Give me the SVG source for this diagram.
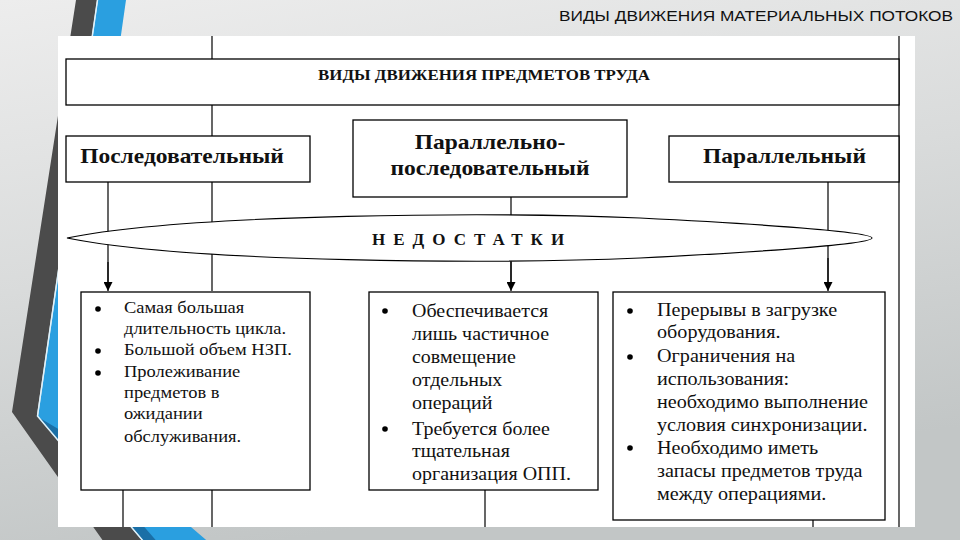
<svg xmlns="http://www.w3.org/2000/svg" width="960" height="540" viewBox="0 0 960 540">
<defs>
<linearGradient id="bg" x1="0" y1="0" x2="0.3" y2="1">
<stop offset="0" stop-color="#ededed"/>
<stop offset="0.5" stop-color="#d9dbdb"/>
<stop offset="1" stop-color="#c2c6c6"/>
</linearGradient>
<marker id="ah" viewBox="0 0 10 10" refX="10" refY="5" markerWidth="9" markerHeight="9" markerUnits="userSpaceOnUse" orient="auto">
<path d="M0,0 L10,5 L0,10 Z" fill="#000"/>
</marker>
<style>
.box{fill:#fff;stroke:#000;stroke-width:1.3}
.ln{stroke:#000;stroke-width:1.2;fill:none}
.hd{font-family:"Liberation Serif",serif;font-weight:bold;fill:#111}
.bt{font-family:"Liberation Serif",serif;fill:#111}
.bl{fill:#000}
</style>
</defs>
<rect width="960" height="540" fill="url(#bg)"/>
<!-- decorative chevrons -->
<polygon points="76,0 97,0 37,415 146,545 106,545 12,412" fill="#4b4b4b"/>
<polygon points="98,0 126,0 66,420 212,545 147,545 38,417" fill="#2a9fe0"/>
<polygon points="38,417 60,430 160,545 147,545" fill="#1a6fa6"/>
<path d="M97.5,0 L37.5,416 L146.5,545" fill="none" stroke="#dff2fb" stroke-width="1.5"/>
<!-- panel -->
<rect x="58" y="36" width="857" height="491" fill="#fff"/>
<text x="953" y="21" text-anchor="end" font-family="Liberation Sans, Arial, sans-serif" font-size="15" fill="#111" textLength="394" lengthAdjust="spacingAndGlyphs">ВИДЫ ДВИЖЕНИЯ МАТЕРИАЛЬНЫХ ПОТОКОВ</text>
<g id="connectors">
<line class="ln" x1="899" y1="36" x2="899" y2="527"/>
<line class="ln" x1="212" y1="36" x2="212" y2="59"/>
<line class="ln" x1="212" y1="105" x2="212" y2="136"/>
<line class="ln" x1="212" y1="182" x2="212" y2="291"/>
<line class="ln" x1="212" y1="490" x2="212" y2="527"/>
<line class="ln" x1="123" y1="490" x2="123" y2="527"/>
<line class="ln" x1="485" y1="490" x2="485" y2="527"/>
<line class="ln" x1="813" y1="520" x2="813" y2="527"/>
<line class="ln" x1="108" y1="182" x2="108" y2="291" marker-end="url(#ah)"/>
<line class="ln" x1="511" y1="197" x2="511" y2="291" marker-end="url(#ah)"/>
<line class="ln" x1="828" y1="182" x2="828" y2="291" marker-end="url(#ah)"/>
</g>
<g id="nedostatki">
<path d="M67,238 C190,213 500,212 640,218 C760,224 872,232 872,238 C872,244 760,252 640,258 C500,264 190,263 67,238 Z" fill="#fff" stroke="#000" stroke-width="1.1"/>
<line class="ln" x1="108" y1="262" x2="108" y2="282"/>
<line class="ln" x1="511" y1="262" x2="511" y2="282"/>
<line class="ln" x1="828" y1="258" x2="828" y2="282"/>
<text class="hd" x="372" y="245" font-size="17" letter-spacing="8">НЕДОСТАТКИ</text>
</g>
<g id="top">
<rect class="box" x="66" y="59" width="833" height="46"/>
<g transform="translate(484,0) scale(1.125,1)"><text class="hd" x="0" y="80" font-size="15" text-anchor="middle">ВИДЫ ДВИЖЕНИЯ ПРЕДМЕТОВ ТРУДА</text></g>
</g>
<g id="seq">
<rect class="box" x="66" y="136" width="244" height="46"/>
<g transform="translate(182,0) scale(1.12,1)"><text class="hd" x="0" y="163" font-size="21" text-anchor="middle">Последовательный</text></g>
</g>
<g id="parseq">
<rect class="box" x="353" y="120" width="274" height="77"/>
<g transform="translate(490,0) scale(1.12,1)"><text class="hd" font-size="21" text-anchor="middle"><tspan x="0" y="149">Параллельно-</tspan><tspan x="0" y="175">последовательный</tspan></text></g>
</g>
<g id="par">
<rect class="box" x="669" y="136" width="230" height="46"/>
<g transform="translate(784.5,0) scale(1.12,1)"><text class="hd" x="0" y="163" font-size="21" text-anchor="middle">Параллельный</text></g>
</g>
<g id="d1">
<rect class="box" x="81" y="292" width="229" height="198"/>
<circle class="bl" cx="98" cy="309" r="2.8"/>
<circle class="bl" cx="98" cy="351" r="2.8"/>
<circle class="bl" cx="98" cy="373" r="2.8"/>
<g transform="translate(124,0) scale(1.12,1)"><text class="bt" font-size="16.5"><tspan x="0" y="313">Самая большая</tspan><tspan x="0" y="334">длительность цикла.</tspan><tspan x="0" y="355">Большой объем НЗП.</tspan><tspan x="0" y="377">Пролеживание</tspan><tspan x="0" y="398">предметов в</tspan><tspan x="0" y="419">ожидании</tspan><tspan x="0" y="442">обслуживания.</tspan></text></g>
</g>
<g id="d2">
<rect class="box" x="369" y="292" width="229" height="198"/>
<circle class="bl" cx="385" cy="311" r="2.8"/>
<circle class="bl" cx="385" cy="429" r="2.8"/>
<g transform="translate(412,0) scale(1.11,1)"><text class="bt" font-size="18"><tspan x="0" y="317">Обеспечивается</tspan><tspan x="0" y="340">лишь частичное</tspan><tspan x="0" y="363">совмещение</tspan><tspan x="0" y="386">отдельных</tspan><tspan x="0" y="409">операций</tspan><tspan x="0" y="435">Требуется более</tspan><tspan x="0" y="457">тщательная</tspan><tspan x="0" y="480">организация ОПП.</tspan></text></g>
</g>
<g id="d3">
<rect class="box" x="613" y="292" width="272" height="228"/>
<circle class="bl" cx="630" cy="311" r="2.8"/>
<circle class="bl" cx="630" cy="357" r="2.8"/>
<circle class="bl" cx="630" cy="448" r="2.8"/>
<g transform="translate(657,0) scale(1.12,1)"><text class="bt" font-size="18"><tspan x="0" y="316">Перерывы в загрузке</tspan><tspan x="0" y="338">оборудования.</tspan><tspan x="0" y="362">Ограничения на</tspan><tspan x="0" y="385">использования:</tspan><tspan x="0" y="408">необходимо выполнение</tspan><tspan x="0" y="431">условия синхронизации.</tspan><tspan x="0" y="454">Необходимо иметь</tspan><tspan x="0" y="477">запасы предметов труда</tspan><tspan x="0" y="500">между операциями.</tspan></text></g>
</g>
</svg>
